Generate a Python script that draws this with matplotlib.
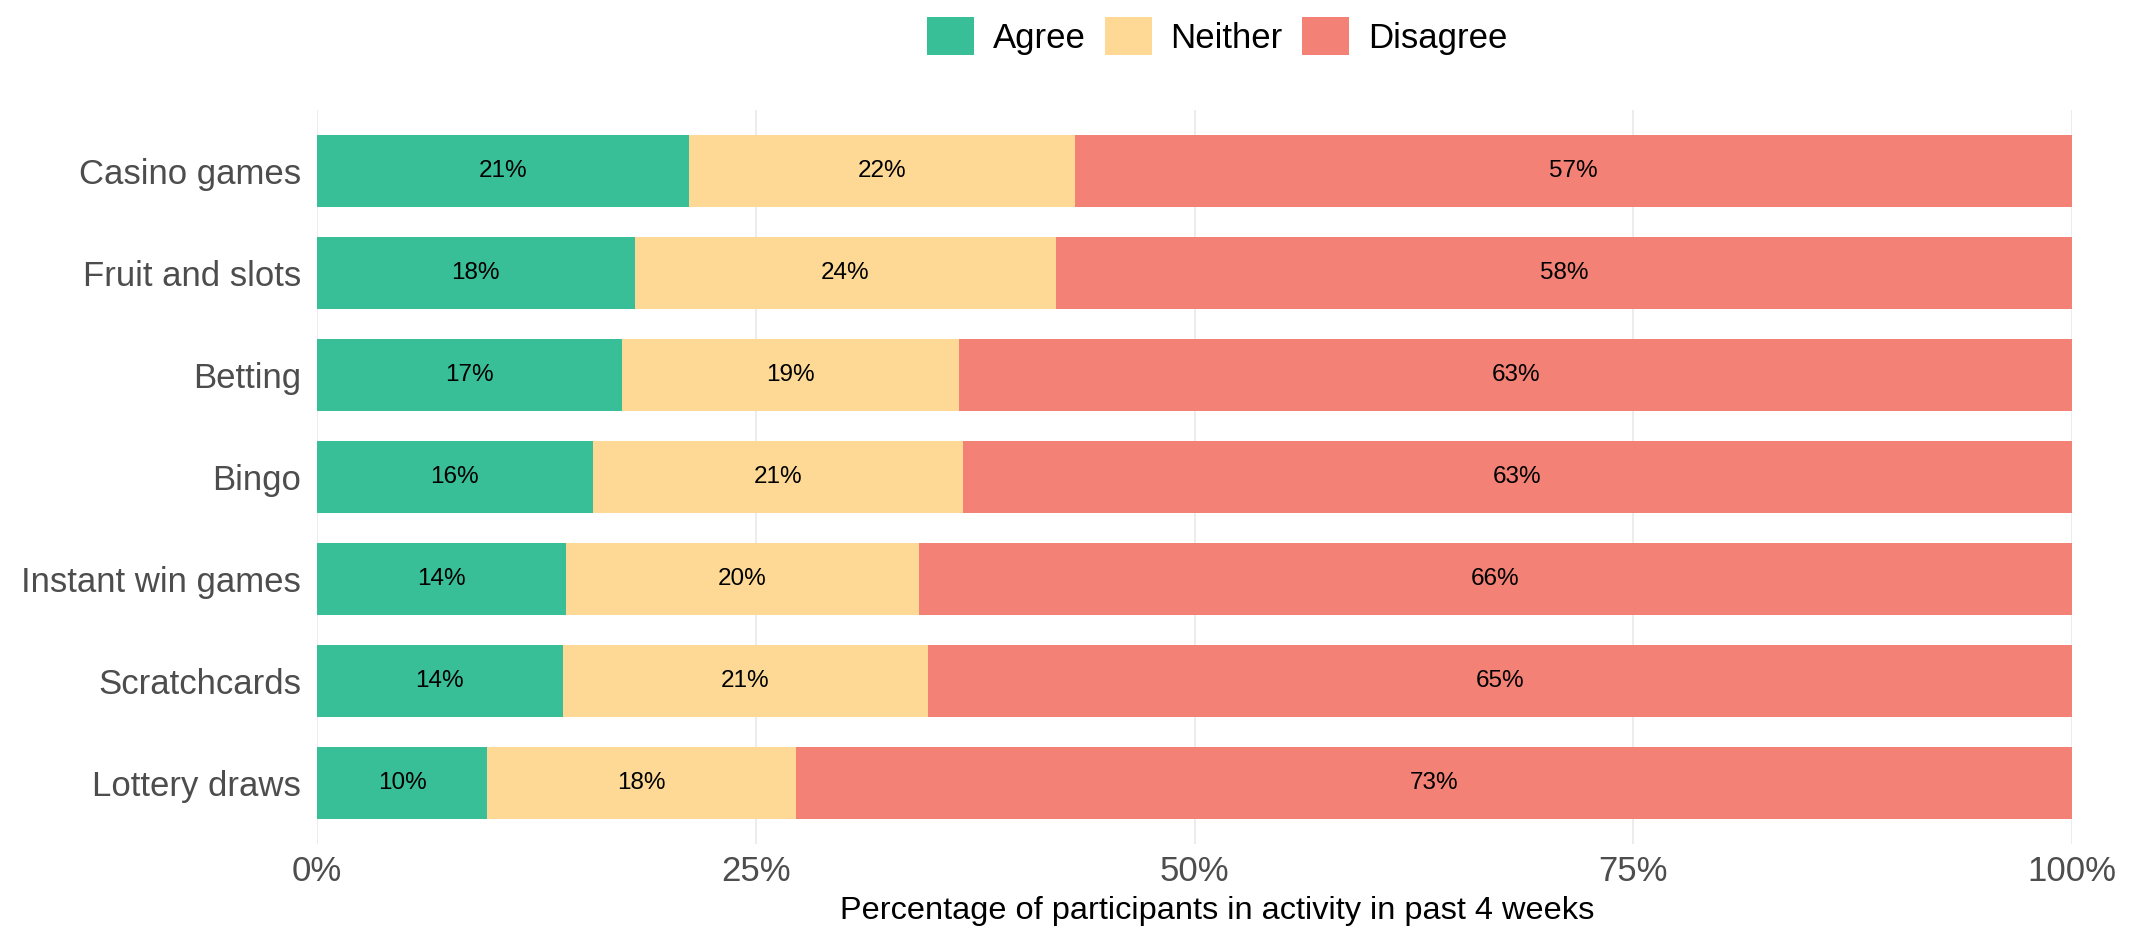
import matplotlib
matplotlib.use("Agg")
import matplotlib.pyplot as plt
from matplotlib.patches import Patch

plt.rcParams['font.family'] = ['Liberation Sans', 'DejaVu Sans']

categories = ["Casino games", "Fruit and slots", "Betting", "Bingo",
              "Instant win games", "Scratchcards", "Lottery draws"]
agree = [21.2, 18.1, 17.4, 15.7, 14.2, 14.0, 9.7]
neither = [22.0, 24.0, 19.2, 21.1, 20.1, 20.8, 17.6]
disagree = [56.8, 57.9, 63.4, 63.2, 65.7, 65.2, 72.7]
series_names = ["Agree", "Neither", "Disagree"]
colors = ["#38BF97", "#FDD995", "#F38175"]
xticks = [0, 25, 50, 75, 100]
xtick_labels = ["0%", "25%", "50%", "75%", "100%"]
xlabel = "Percentage of participants in activity in past 4 weeks"

fig = plt.figure(figsize=(21.33, 9.36), dpi=100)
ax = fig.add_axes([317/2133, 1-844/936, (2072-317)/2133, (844-110)/936])

ypos = list(range(len(categories)))
left = [0.0]*len(categories)
for vals, name, col in zip([agree, neither, disagree], series_names, colors):
    ax.barh(ypos, vals, left=left, height=0.71, color=col, label=name, zorder=2)
    for y, l, v in zip(ypos, left, vals):
        ax.text(l + v/2, y, f"{round(v):d}%", ha='center', va='center',
                fontsize=17.5, color='black', zorder=3)
    left = [a + b for a, b in zip(left, vals)]

ax.set_ylim(len(categories) - 0.4, -0.6)
ax.set_xlim(0, 100)
ax.set_yticks(ypos)
ax.set_yticklabels(categories, fontsize=25, color='#4D4D4D')
ax.set_xticks(xticks)
ax.set_xticklabels(xtick_labels, fontsize=25, color='#4D4D4D')
ax.tick_params(axis='both', length=0)
ax.tick_params(axis='y', pad=11.5)
ax.tick_params(axis='x', pad=8)
ax.grid(axis='x', color='#EBEBEB', linewidth=1.3, zorder=0)
ax.grid(axis='y', visible=False)
ax.set_axisbelow(True)
for s in ax.spines.values():
    s.set_visible(False)
fig.text(1217/2133, 1-911/936, xlabel, fontsize=23.4, color='black',
         ha='center', va='center')

handles = [Patch(facecolor=c, edgecolor='none', label=n) for c, n in zip(colors, series_names)]
fig.legend(handles=handles, loc='center', bbox_to_anchor=(1217/2133, 1-36/936),
           ncol=3, frameon=False, fontsize=25, handlelength=1.35, handleheight=1.35,
           handletextpad=0.55, columnspacing=0.55, borderaxespad=0, borderpad=0)

fig.savefig("out.png", dpi=100, facecolor='white')
